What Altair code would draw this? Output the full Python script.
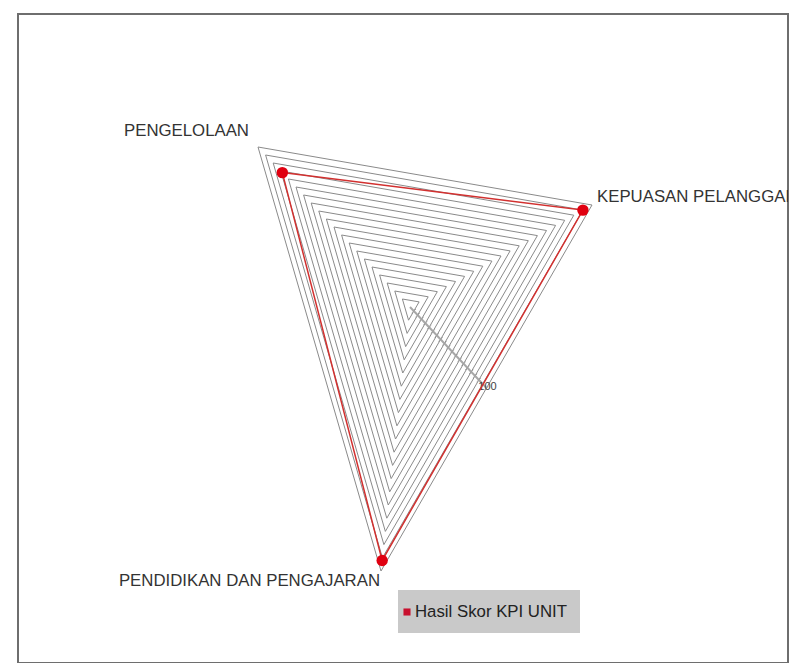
import altair as alt
import pandas as pd

# ---------------- data ----------------
categories = ["PENGELOLAAN", "KEPUASAN PELANGGAN", "PENDIDIKAN DAN PENGAJARAN"]
scores = [84, 95, 96]
series_name = "Hasil Skor KPI UNIT"
ring_levels = [5, 10, 15, 20, 25, 30, 35, 40, 45, 50, 55, 60, 65, 70, 75, 80, 85, 90, 95, 100]
axis_max = 100
axis_label = "100"

# ---------------- layout geometry (pixels) ----------------
CENTER = (410, 307)
AXIS_VEC = [(-152, -160), (182, -102), (-29, 264)]   # offset of the outer (max) ring vertex
LABEL_POS = [(249, 131), (597, 197), (380, 581)]
LABEL_ALIGN = ["right", "left", "right"]


def pt(i, v):
    return (CENTER[0] + v / axis_max * AXIS_VEC[i][0],
            CENTER[1] + v / axis_max * AXIS_VEC[i][1])


ring_rows = []
for lv in ring_levels:
    for k, i in enumerate([0, 1, 2, 0]):
        x, y = pt(i, lv)
        ring_rows.append({"level": lv, "order": k, "x": x, "y": y})
rings_df = pd.DataFrame(ring_rows)

series_rows = []
for k, i in enumerate([0, 1, 2, 0]):
    x, y = pt(i, scores[i])
    series_rows.append({"order": k, "x": x, "y": y, "cat": categories[i], "score": scores[i]})
series_df = pd.DataFrame(series_rows)
points_df = series_df.iloc[:3]

# value axis drawn from centre toward the middle of the opposite edge
dvx = (AXIS_VEC[1][0] + AXIS_VEC[2][0]) / 2 / axis_max
dvy = (AXIS_VEC[1][1] + AXIS_VEC[2][1]) / 2 / axis_max
norm = (dvx ** 2 + dvy ** 2) ** 0.5
nx, ny = -dvy / norm, dvx / norm
tick_rows = []
for lv in ring_levels:
    px, py = CENTER[0] + lv * dvx, CENTER[1] + lv * dvy
    tick_rows.append({"x": px - 3 * nx, "y": py - 3 * ny, "x2": px + 3 * nx, "y2": py + 3 * ny})
ticks_df = pd.DataFrame(tick_rows)
vaxis_df = pd.DataFrame([{"x": CENTER[0], "y": CENTER[1],
                          "x2": CENTER[0] + axis_max * dvx, "y2": CENTER[1] + axis_max * dvy}])
vlabel_df = pd.DataFrame([{"x": CENTER[0] + axis_max * dvx + 1, "y": CENTER[1] + axis_max * dvy - 1,
                           "t": axis_label}])

labels_df = pd.DataFrame([{"x": LABEL_POS[i][0], "y": LABEL_POS[i][1], "t": categories[i],
                           "al": LABEL_ALIGN[i]} for i in range(3)])

legend_box = pd.DataFrame([{"x": 398, "x2": 580, "y": 590, "y2": 633}])
legend_mark = pd.DataFrame([{"x": 407, "y": 612}])
legend_text = pd.DataFrame([{"x": 415, "y": 612, "t": series_name}])

# ---------------- chart ----------------
xs = alt.Scale(domain=[18, 788], nice=False, zero=False)
ys = alt.Scale(domain=[14, 663], nice=False, zero=False, reverse=True)
X = alt.X("x:Q", scale=xs, axis=None)
Y = alt.Y("y:Q", scale=ys, axis=None)

rings = alt.Chart(rings_df).mark_line(color="#8a8a8a", strokeWidth=1).encode(
    x=X, y=Y, detail="level:N", order="order:Q")

vaxis = alt.Chart(vaxis_df).mark_rule(color="#a8a8a8", strokeWidth=2).encode(
    x=X, y=Y, x2="x2:Q", y2="y2:Q")
ticks = alt.Chart(ticks_df).mark_rule(color="#a0a0a0", strokeWidth=1).encode(
    x=X, y=Y, x2="x2:Q", y2="y2:Q")
vlabel = alt.Chart(vlabel_df).mark_text(fontSize=11, font="Liberation Sans", color="#444",
                                        align="center", baseline="middle").encode(
    x=X, y=Y, text="t:N")

series_line = alt.Chart(series_df).mark_line(color="#d2302f", strokeWidth=1.5).encode(
    x=X, y=Y, order="order:Q")
series_pts = alt.Chart(points_df).mark_circle(color="#e00010", opacity=1, size=130).encode(
    x=X, y=Y, tooltip=["cat:N", "score:Q"])

lab_r = alt.Chart(labels_df).transform_filter(alt.datum.al == "right").mark_text(
    fontSize=16.8, font="Liberation Sans", color="#333", align="right", baseline="middle").encode(
    x=X, y=Y, text="t:N")
lab_l = alt.Chart(labels_df).transform_filter(alt.datum.al == "left").mark_text(
    fontSize=16.8, font="Liberation Sans", color="#333", align="left", baseline="middle",
    clip=True).encode(x=X, y=Y, text="t:N")

lbox = alt.Chart(legend_box).mark_rect(color="#c9c9c9").encode(
    x=X, y=Y, x2="x2:Q", y2="y2:Q")
lmark = alt.Chart(legend_mark).mark_square(color="#c8102e", size=50, opacity=1).encode(x=X, y=Y)
ltext = alt.Chart(legend_text).mark_text(fontSize=16.8, font="Liberation Sans", color="#222",
                                         align="left", baseline="middle").encode(
    x=X, y=Y, text="t:N")

chart = alt.layer(rings, vaxis, ticks, vlabel, series_line, series_pts, lab_r, lab_l,
                  lbox, lmark, ltext).properties(
    width=770, height=649,
    autosize=alt.AutoSizeParams(type="none"),
    padding={"left": 10, "top": 6, "right": 2, "bottom": 0},
    background="white",
).configure_view(stroke="#6e6e6e", strokeWidth=2)

chart.save("out.html", embed_options={"renderer": "svg", "actions": False})
